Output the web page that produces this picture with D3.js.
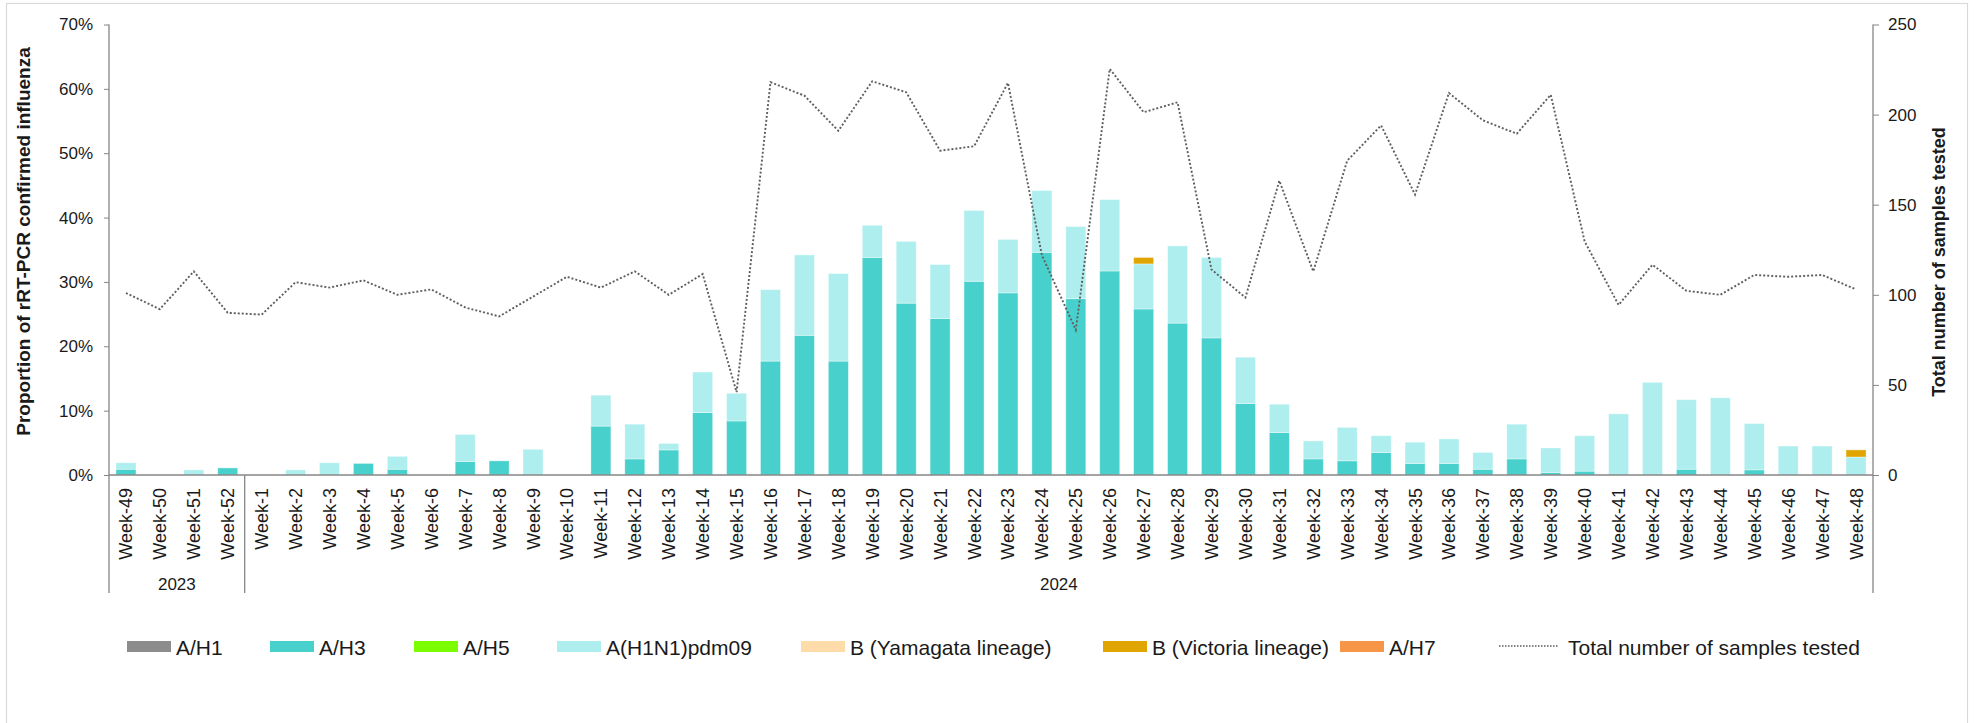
<!DOCTYPE html>
<html>
<head>
<meta charset="utf-8">
<script src="https://cdn.jsdelivr.net/npm/d3@7"></script>
<style>
  body { margin: 0; background: #fff; }
  svg { font-family: "Liberation Sans", Arial, sans-serif; }
</style>
</head>
<body>
<svg id="chart" width="1975" height="723"></svg>
<script>
// week categories
const weeks = ["Week-49", "Week-50", "Week-51", "Week-52",
  "Week-1", "Week-2", "Week-3", "Week-4", "Week-5", "Week-6", "Week-7", "Week-8", "Week-9", "Week-10",
  "Week-11", "Week-12", "Week-13", "Week-14", "Week-15", "Week-16", "Week-17", "Week-18", "Week-19", "Week-20",
  "Week-21", "Week-22", "Week-23", "Week-24", "Week-25", "Week-26", "Week-27", "Week-28", "Week-29", "Week-30",
  "Week-31", "Week-32", "Week-33", "Week-34", "Week-35", "Week-36", "Week-37", "Week-38", "Week-39", "Week-40",
  "Week-41", "Week-42", "Week-43", "Week-44", "Week-45", "Week-46", "Week-47", "Week-48"];

const years = ["2023", "2024"];
const yearFirstWeek = ["Week-49", "Week-1"];
const yearLastWeek = ["Week-52", "Week-48"];

// proportions in % (stack segments)
const aH1 = new Array(52).fill(0);
const aH3 = [0.9, 0, 0, 1.1,
  0, 0, 0, 1.8, 0.9, 0, 2.1, 2.2, 0, 0,
  7.6, 2.5, 3.9, 9.7, 8.4, 17.7, 21.7, 17.7, 33.8, 26.7,
  24.3, 30.1, 28.3, 34.6, 27.4, 31.7, 25.8, 23.6, 21.3, 11.1,
  6.6, 2.5, 2.2, 3.5, 1.8, 1.8, 0.9, 2.5, 0.4, 0.6,
  0, 0, 0.9, 0, 0.8, 0, 0, 0];
const aH5 = new Array(52).fill(0);
const pdm09 = [1.0, 0, 0.8, 0,
  0, 0.8, 1.9, 0, 2.0, 0, 4.2, 0, 4.0, 0,
  4.8, 5.4, 1.0, 6.3, 4.3, 11.1, 12.5, 13.6, 5.0, 9.6,
  8.4, 11.0, 8.3, 9.6, 11.2, 11.1, 7.0, 12.0, 12.5, 7.2,
  4.4, 2.8, 5.2, 2.6, 3.3, 3.8, 2.6, 5.4, 3.8, 5.5,
  9.5, 14.4, 10.8, 12.0, 7.2, 4.5, 4.5, 2.8];
const bYamagata = new Array(52).fill(0);
const bVictoria = [0, 0, 0, 0,
  0, 0, 0, 0, 0, 0, 0, 0, 0, 0,
  0, 0, 0, 0, 0, 0, 0, 0, 0, 0,
  0, 0, 0, 0, 0, 0, 1.0, 0, 0, 0,
  0, 0, 0, 0, 0, 0, 0, 0, 0, 0,
  0, 0, 0, 0, 0, 0, 0, 1.1];
const aH7 = new Array(52).fill(0);

// total number of samples tested
const samples = [101, 92, 113, 90,
  89, 107, 104, 108, 100, 103, 93, 88, 99, 110,
  104, 113, 100, 111.5, 46, 218, 210.5, 191, 218.5, 212.4,
  180, 182.4, 217.6, 122, 80.5, 225.4, 201.3, 206.8, 114, 98.5,
  163.3, 113, 174.4, 194, 155.6, 212, 196.8, 189.4, 211, 129.6,
  94.4, 116.7, 102.2, 100, 111, 110, 111, 103];

const seriesNames = ["A/H1", "A/H3", "A/H5", "A(H1N1)pdm09", "B (Yamagata lineage)", "B (Victoria lineage)", "A/H7"];
const seriesValues = [aH1, aH3, aH5, pdm09, bYamagata, bVictoria, aH7];
const seriesColors = ["#8c8c8c", "#48d1cc", "#7cfc00", "#afeeee", "#fddcaa", "#e0a500", "#f79646"];
const lineName = "Total number of samples tested";

const leftTicks = [0, 0.1, 0.2, 0.3, 0.4, 0.5, 0.6, 0.7];
const rightTicks = [0, 50, 100, 150, 200, 250];

const svg = d3.select("#chart");
const plotLeft = 109, plotRight = 1873, plotTop = 24.5, plotBottom = 475, groupBottom = 593;
const axisColor = "#868686";

// outer frame
svg.append("rect")
  .attr("x", 6.5).attr("y", 3.5).attr("width", 1961).attr("height", 800)
  .attr("fill", "none").attr("stroke", "#d9d9d9").attr("stroke-width", 1.2);

const x = d3.scaleBand().domain(weeks).range([plotLeft, plotRight]).paddingInner(0.41).paddingOuter(0.205);
const y = d3.scaleLinear().domain([0, 0.7]).range([plotBottom, plotTop]);
const y2 = d3.scaleLinear().domain([0, 250]).range([plotBottom, plotTop]);

// table for stacking
const rows = weeks.map((w, i) => {
  const r = { week: w };
  seriesNames.forEach((s, k) => r[s] = seriesValues[k][i] / 100);
  return r;
});
const stacked = d3.stack().keys(seriesNames)(rows);

svg.append("g").selectAll("g")
  .data(stacked)
  .join("g")
  .attr("fill", (d, i) => seriesColors[i])
  .selectAll("rect")
  .data(d => d.filter(p => p[1] - p[0] > 0))
  .join("rect")
  .attr("x", d => x(d.data.week))
  .attr("width", x.bandwidth())
  .attr("y", d => y(d[1]))
  .attr("height", d => y(d[0]) - y(d[1]))
  .attr("stroke", "#ffffff")
  .attr("stroke-opacity", 0.45)
  .attr("stroke-width", 0.8);

// left axis
const gl = svg.append("g")
  .attr("transform", `translate(${plotLeft},0)`)
  .call(d3.axisLeft(y).tickValues(leftTicks).tickFormat(d3.format(".0%")).tickSize(5).tickSizeOuter(0).tickPadding(11));
gl.select(".domain").remove();
gl.selectAll(".tick line").attr("stroke", axisColor);
gl.selectAll(".tick text").attr("font-size", 17).attr("fill", "#1a1a1a").attr("font-family", "Liberation Sans, Arial, sans-serif");

// right axis
const gr = svg.append("g")
  .attr("transform", `translate(${plotRight},0)`)
  .call(d3.axisRight(y2).tickValues(rightTicks).tickSize(6).tickSizeOuter(0).tickPadding(9));
gr.select(".domain").remove();
gr.selectAll(".tick line").attr("stroke", axisColor);
gr.selectAll(".tick text").attr("font-size", 17).attr("fill", "#1a1a1a").attr("font-family", "Liberation Sans, Arial, sans-serif");

// axis lines
svg.append("line").attr("x1", plotLeft).attr("x2", plotLeft).attr("y1", plotTop).attr("y2", groupBottom)
  .attr("stroke", axisColor).attr("stroke-width", 1.3);
svg.append("line").attr("x1", plotRight).attr("x2", plotRight).attr("y1", plotTop).attr("y2", groupBottom)
  .attr("stroke", axisColor).attr("stroke-width", 1.3);

// category axis
const gx = svg.append("g")
  .attr("transform", `translate(0,${plotBottom})`)
  .call(d3.axisBottom(x).tickSize(0).tickSizeOuter(0));
gx.select(".domain").remove();
gx.selectAll(".tick text")
  .attr("font-size", 18)
  .attr("fill", "#1a1a1a")
  .attr("font-family", "Liberation Sans, Arial, sans-serif")
  .attr("text-anchor", "end")
  .attr("transform", "rotate(-90)")
  .attr("x", -13)
  .attr("y", 0)
  .attr("dy", "0.36em");
svg.append("line").attr("x1", plotLeft).attr("x2", plotRight).attr("y1", plotBottom).attr("y2", plotBottom)
  .attr("stroke", axisColor).attr("stroke-width", 1.5);

// year groups
const gap = x.step() * x.paddingOuter();
years.forEach((yr, i) => {
  const x0 = x(yearFirstWeek[i]) - gap;
  const x1 = x(yearLastWeek[i]) + x.bandwidth() + gap;
  if (i > 0) {
    svg.append("line").attr("x1", x0).attr("x2", x0).attr("y1", plotBottom).attr("y2", groupBottom)
      .attr("stroke", axisColor).attr("stroke-width", 1.3);
  }
  svg.append("text")
    .attr("x", (x0 + x1) / 2)
    .attr("y", 590)
    .attr("text-anchor", "middle")
    .attr("font-size", 17)
    .attr("fill", "#1a1a1a")
    .text(yr);
});

// samples line
const line = d3.line()
  .x((d, i) => x(weeks[i]) + x.bandwidth() / 2)
  .y(d => y2(d));
svg.append("path")
  .datum(samples)
  .attr("d", line)
  .attr("fill", "none")
  .attr("stroke", "#5f5f5f")
  .attr("stroke-width", 1.9)
  .attr("stroke-dasharray", "2,2");

// axis titles
svg.append("text")
  .attr("transform", "translate(30,241.5) rotate(-90)")
  .attr("text-anchor", "middle")
  .attr("font-size", 19)
  .attr("font-weight", "bold")
  .attr("fill", "#1a1a1a")
  .text("Proportion of rRT-PCR confirmed influenza");
svg.append("text")
  .attr("transform", "translate(1945,262) rotate(-90)")
  .attr("text-anchor", "middle")
  .attr("font-size", 18)
  .attr("font-weight", "bold")
  .attr("fill", "#1a1a1a")
  .text(lineName);

// legend
const legendX = [127, 270, 414, 557, 801, 1103, 1340];
const legend = svg.append("g");
seriesNames.forEach((s, i) => {
  legend.append("rect")
    .attr("x", legendX[i]).attr("y", 641)
    .attr("width", 44).attr("height", 11)
    .attr("fill", seriesColors[i]);
  legend.append("text")
    .attr("x", legendX[i] + 49).attr("y", 654.5)
    .attr("font-size", 21)
    .attr("fill", "#1a1a1a")
    .text(s);
});
legend.append("line")
  .attr("x1", 1499).attr("x2", 1559).attr("y1", 646).attr("y2", 646)
  .attr("stroke", "#595959").attr("stroke-width", 1.5).attr("stroke-dasharray", "1.5,1.5");
legend.append("text")
  .attr("x", 1568).attr("y", 654.5)
  .attr("font-size", 21)
  .attr("fill", "#1a1a1a")
  .text(lineName);
</script>
</body>
</html>
